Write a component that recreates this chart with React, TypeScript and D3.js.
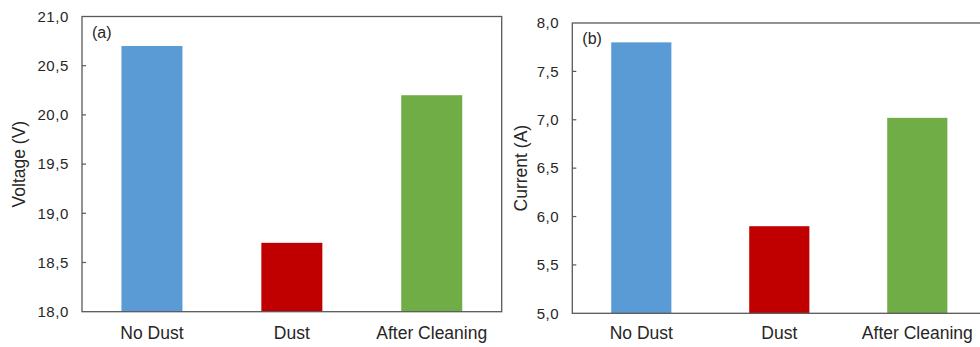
import * as d3 from 'd3';

const categories = ['No Dust', 'Dust', 'After Cleaning'];
const barColors = ['#5B9BD5', '#C00000', '#70AD47'];
const voltageValues = [20.7, 18.7, 20.2];
const currentValues = [7.8, 5.9, 7.02];
const voltageTicks = [18, 18.5, 19, 19.5, 20, 20.5, 21];
const currentTicks = [5, 5.5, 6, 6.5, 7, 7.5, 8];

const fmt = (v: number) => v.toFixed(1).replace('.', ',');

interface PanelProps {
  box: { left: number; right: number; top: number; bottom: number };
  values: number[];
  ticks: number[];
  title: string;
  tag: string;
  titleX: number;
}

function Panel({ box, values, ticks, title, tag, titleX }: PanelProps) {
  const x = d3.scaleBand<string>()
    .domain(categories)
    .range([box.left, box.right])
    .paddingInner(0.564)
    .paddingOuter(0.282);
  const y = d3.scaleLinear()
    .domain([ticks[0], ticks[ticks.length - 1]])
    .range([box.bottom, box.top]);
  const axisColor = '#595959';
  const textColor = '#262626';

  return (
    <g>
      {/* bars */}
      {values.map((v, i) => (
        <rect
          key={categories[i]}
          x={x(categories[i])}
          y={y(v)}
          width={x.bandwidth()}
          height={y(ticks[0]) - y(v)}
          fill={barColors[i]}
        />
      ))}

      {/* frame */}
      <rect
        x={box.left}
        y={box.top}
        width={box.right - box.left}
        height={box.bottom - box.top}
        fill="none"
        stroke={axisColor}
        strokeWidth={1.3}
      />

      {/* y ticks, drawn inside */}
      {ticks.map(t => (
        <g key={t}>
          {t !== ticks[0] && t !== ticks[ticks.length - 1] && (
            <line x1={box.left} x2={box.left + 4} y1={y(t)} y2={y(t)} stroke={axisColor} strokeWidth={1.2} />
          )}
          <text
            x={box.left - 13}
            y={y(t)}
            dy="0.35em"
            textAnchor="end"
            fontSize={15}
            letterSpacing={0.6}
            fill={textColor}
          >
            {fmt(t)}
          </text>
        </g>
      ))}

      {/* category labels */}
      {categories.map(c => (
        <text
          key={c}
          x={(x(c) ?? 0) + x.bandwidth() / 2}
          y={339}
          textAnchor="middle"
          fontSize={17.5}
          fill={textColor}
        >
          {c}
        </text>
      ))}

      {/* axis title */}
      <text
        transform={`translate(${titleX},${(box.top + box.bottom) / 2}) rotate(-90)`}
        textAnchor="middle"
        fontSize={17.5}
        fill={textColor}
      >
        {title}
      </text>

      <text x={box.left + 10} y={box.top + 21} fontSize={16} fill={textColor}>
        {tag}
      </text>
    </g>
  );
}

export default function App() {
  return (
    <svg
      width={980}
      height={347}
      style={{ position: 'absolute', left: 0, top: 0, background: '#fff', overflow: 'hidden' }}
      fontFamily="'Liberation Sans', Arial, sans-serif"
    >
      <Panel
        box={{ left: 82, right: 501.7, top: 16.5, bottom: 311.7 }}
        values={voltageValues}
        ticks={voltageTicks}
        title="Voltage (V)"
        tag="(a)"
        titleX={25}
      />
      <Panel
        box={{ left: 572.3, right: 986.3, top: 23, bottom: 313.3 }}
        values={currentValues}
        ticks={currentTicks}
        title="Current (A)"
        tag="(b)"
        titleX={527}
      />
    </svg>
  );
}
